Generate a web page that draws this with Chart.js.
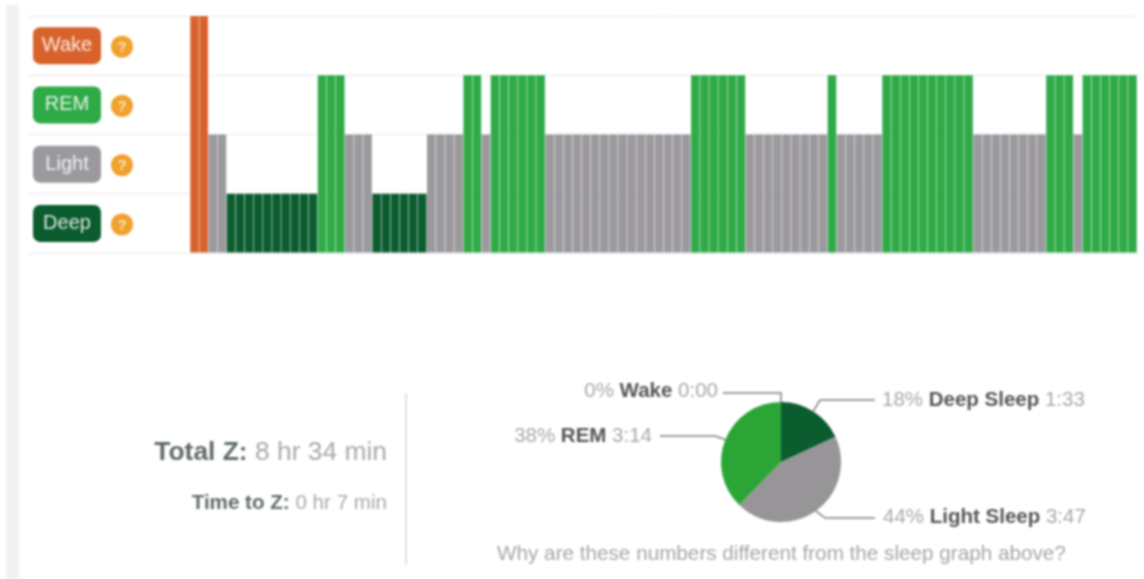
<!DOCTYPE html>
<html>
<head>
<meta charset="utf-8">
<title>Sleep graph</title>
<script src="https://cdn.jsdelivr.net/npm/chart.js@4/dist/chart.umd.min.js"></script>
<style>
    html, body { margin: 0; padding: 0; background: #fff; overflow: hidden; }
    #page { position: relative; width: 1144px; height: 579px; overflow: hidden; filter: blur(0.9px);
            font-family: "Liberation Sans", Arial, sans-serif; }
    #sideStrip { position: absolute; left: 6px; top: 5px; width: 13px; height: 574px; background: #f1f1f1; }
    #sleepCanvas { position: absolute; left: 28px; top: 0; }
    #pieCanvas { position: absolute; left: 451px; top: 372px; }
    #divider { position: absolute; left: 405px; top: 393px; width: 2px; height: 172px; background: #e2e2e2; }
    .stat { position: absolute; right: 757px; white-space: nowrap; color: #a9a9a9; }
    .stat b { color: #5f6b67; }
    #totalZ { top: 436px; font-size: 26.4px; }
    #timeToZ { top: 490px; font-size: 20.6px; }
    #whyNote { position: absolute; left: 497px; top: 541px; font-size: 20.7px; color: #a6a6a6; white-space: nowrap; }
</style>
</head>
<body>
<div id="page">
    <div id="sideStrip"></div>
    <canvas id="sleepCanvas" width="1109" height="270"></canvas>
    <div id="divider"></div>
    <div class="stat" id="totalZ"></div>
    <div class="stat" id="timeToZ"></div>
    <canvas id="pieCanvas" width="660" height="180"></canvas>
    <div id="whyNote"></div>
</div>
<script>
// 1 = Deep, 2 = Light, 3 = REM, 4 = Wake
const stageNames = ["Deep", "Light", "REM", "Wake"];
const stageColors = ["#0b5c2f", "#9b999d", "#2faa47", "#d8622c"];

// one entry per bar, read left to right off the graph
const epochStages = [
    4, 4,
    2, 2,
    1, 1, 1, 1, 1, 1, 1, 1, 1, 1,
    3, 3, 3,
    2, 2, 2,
    1, 1, 1, 1, 1, 1,
    2, 2, 2, 2,
    3, 3,
    2,
    3, 3, 3, 3, 3, 3,
    2, 2, 2, 2, 2, 2, 2, 2, 2, 2, 2, 2, 2, 2, 2, 2,
    3, 3, 3, 3, 3, 3,
    2, 2, 2, 2, 2, 2, 2, 2, 2,
    3,
    2, 2, 2, 2, 2,
    3, 3, 3, 3, 3, 3, 3, 3, 3, 3,
    2, 2, 2, 2, 2, 2, 2, 2,
    3, 3, 3,
    2,
    3, 3, 3, 3, 3, 3
];

// pie, clockwise from the top
const pieNames = ["Wake", "Deep Sleep", "Light Sleep", "REM"];
const pieMinutes = [0, 93, 227, 194];
const piePercents = ["0%", "18%", "44%", "38%"];
const pieTimes = ["0:00", "1:33", "3:47", "3:14"];
const pieColors = ["#d8622c", "#0b5c2f", "#979597", "#2ba636"];

const statLabels = ["Total Z:", "Time to Z:"];
const statValues = ["8 hr 34 min", "0 hr 7 min"];
const noteText = "Why are these numbers different from the sleep graph above?";

document.getElementById("totalZ").innerHTML = `<b>${statLabels[0]}</b> ${statValues[0]}`;
document.getElementById("timeToZ").innerHTML = `<b>${statLabels[1]}</b> ${statValues[1]}`;
document.getElementById("whyNote").textContent = noteText;

// ===== STAGE BADGES =====
const badgePlugin = {
    id: "badges",
    afterDraw(chart) {
        const { ctx, scales } = chart;
        ctx.save();
        ctx.textBaseline = "middle";
        ctx.textAlign = "center";
        stageNames.forEach((name, i) => {
            const y = scales.y.getPixelForValue(i + 0.5);

            ctx.fillStyle = stageColors[i];
            ctx.beginPath();
            ctx.roundRect(5, y - 18.5, 68, 37, 7);
            ctx.fill();

            ctx.fillStyle = "rgba(255,255,255,0.85)";
            ctx.font = "20px 'Liberation Sans', Arial, sans-serif";
            ctx.fillText(name, 39, y);

            ctx.fillStyle = "#f0a12e";
            ctx.beginPath();
            ctx.arc(94, y + 1, 11, 0, Math.PI * 2);
            ctx.fill();

            ctx.fillStyle = "#fbe3b8";
            ctx.font = "bold 15px 'Liberation Sans', Arial, sans-serif";
            ctx.fillText("?", 94, y + 2);
        });
        ctx.restore();
    }
};

new Chart(document.getElementById("sleepCanvas"), {
    type: "bar",
    data: {
        labels: epochStages.map((_, i) => i),
        datasets: [{
            data: epochStages,
            backgroundColor: epochStages.map(s => stageColors[s - 1]),
            barPercentage: 0.94,
            categoryPercentage: 1
        }]
    },
    options: {
        responsive: false,
        animation: false,
        layout: { padding: { top: 16, bottom: 17, right: 0 } },
        plugins: { legend: { display: false }, tooltip: { enabled: false } },
        scales: {
            x: { display: false },
            y: {
                min: 0,
                max: 4,
                ticks: { stepSize: 1, display: false },
                border: { display: false },
                grid: { color: "#eaeaea", lineWidth: 1, tickLength: 162 },
                afterFit(scale) { scale.width = 162; }
            }
        }
    },
    plugins: [badgePlugin]
});

// ===== PIE CALLOUTS =====
// line bend and text anchor for each slice, relative to the pie centre
const callouts = [
    { bend: [0, -69], end: [-58, -69], text: [-63, -71], align: "right" },
    { bend: [39, -62], end: [94, -62], text: [101, -62], align: "left" },
    { bend: [44, 56], end: [94, 56], text: [102, 55], align: "left" },
    { bend: [-66, -26], end: [-121, -26], text: [-129, -26], align: "right" }
];

const calloutPlugin = {
    id: "callouts",
    afterDraw(chart) {
        const { ctx } = chart;
        const arcs = chart.getDatasetMeta(0).data;
        ctx.save();
        ctx.textBaseline = "middle";
        arcs.forEach((arc, i) => {
            const c = callouts[i];
            const mid = (arc.startAngle + arc.endAngle) / 2;
            const cx = arc.x, cy = arc.y;

            ctx.strokeStyle = "#808080";
            ctx.lineWidth = 1.5;
            ctx.beginPath();
            ctx.moveTo(cx + Math.cos(mid) * arc.outerRadius, cy + Math.sin(mid) * arc.outerRadius);
            ctx.lineTo(cx + c.bend[0], cy + c.bend[1]);
            ctx.lineTo(cx + c.end[0], cy + c.end[1]);
            ctx.stroke();

            const parts = [
                { str: piePercents[i] + " ", font: "20.5px 'Liberation Sans', Arial, sans-serif", color: "#a8a8a8" },
                { str: pieNames[i] + " ", font: "bold 20.5px 'Liberation Sans', Arial, sans-serif", color: "#555555" },
                { str: pieTimes[i], font: "20.5px 'Liberation Sans', Arial, sans-serif", color: "#a8a8a8" }
            ];
            let total = 0;
            parts.forEach(p => { ctx.font = p.font; total += ctx.measureText(p.str).width; });

            let x = cx + c.text[0] - (c.align === "right" ? total : 0);
            ctx.textAlign = "left";
            parts.forEach(p => {
                ctx.font = p.font;
                ctx.fillStyle = p.color;
                ctx.fillText(p.str, x, cy + c.text[1]);
                x += ctx.measureText(p.str).width;
            });
        });
        ctx.restore();
    }
};

new Chart(document.getElementById("pieCanvas"), {
    type: "pie",
    data: {
        labels: pieNames,
        datasets: [{
            data: pieMinutes,
            backgroundColor: pieColors,
            borderWidth: 0,
            radius: 60
        }]
    },
    options: {
        responsive: false,
        animation: false,
        plugins: { legend: { display: false }, tooltip: { enabled: false } }
    },
    plugins: [calloutPlugin]
});
</script>
</body>
</html>
